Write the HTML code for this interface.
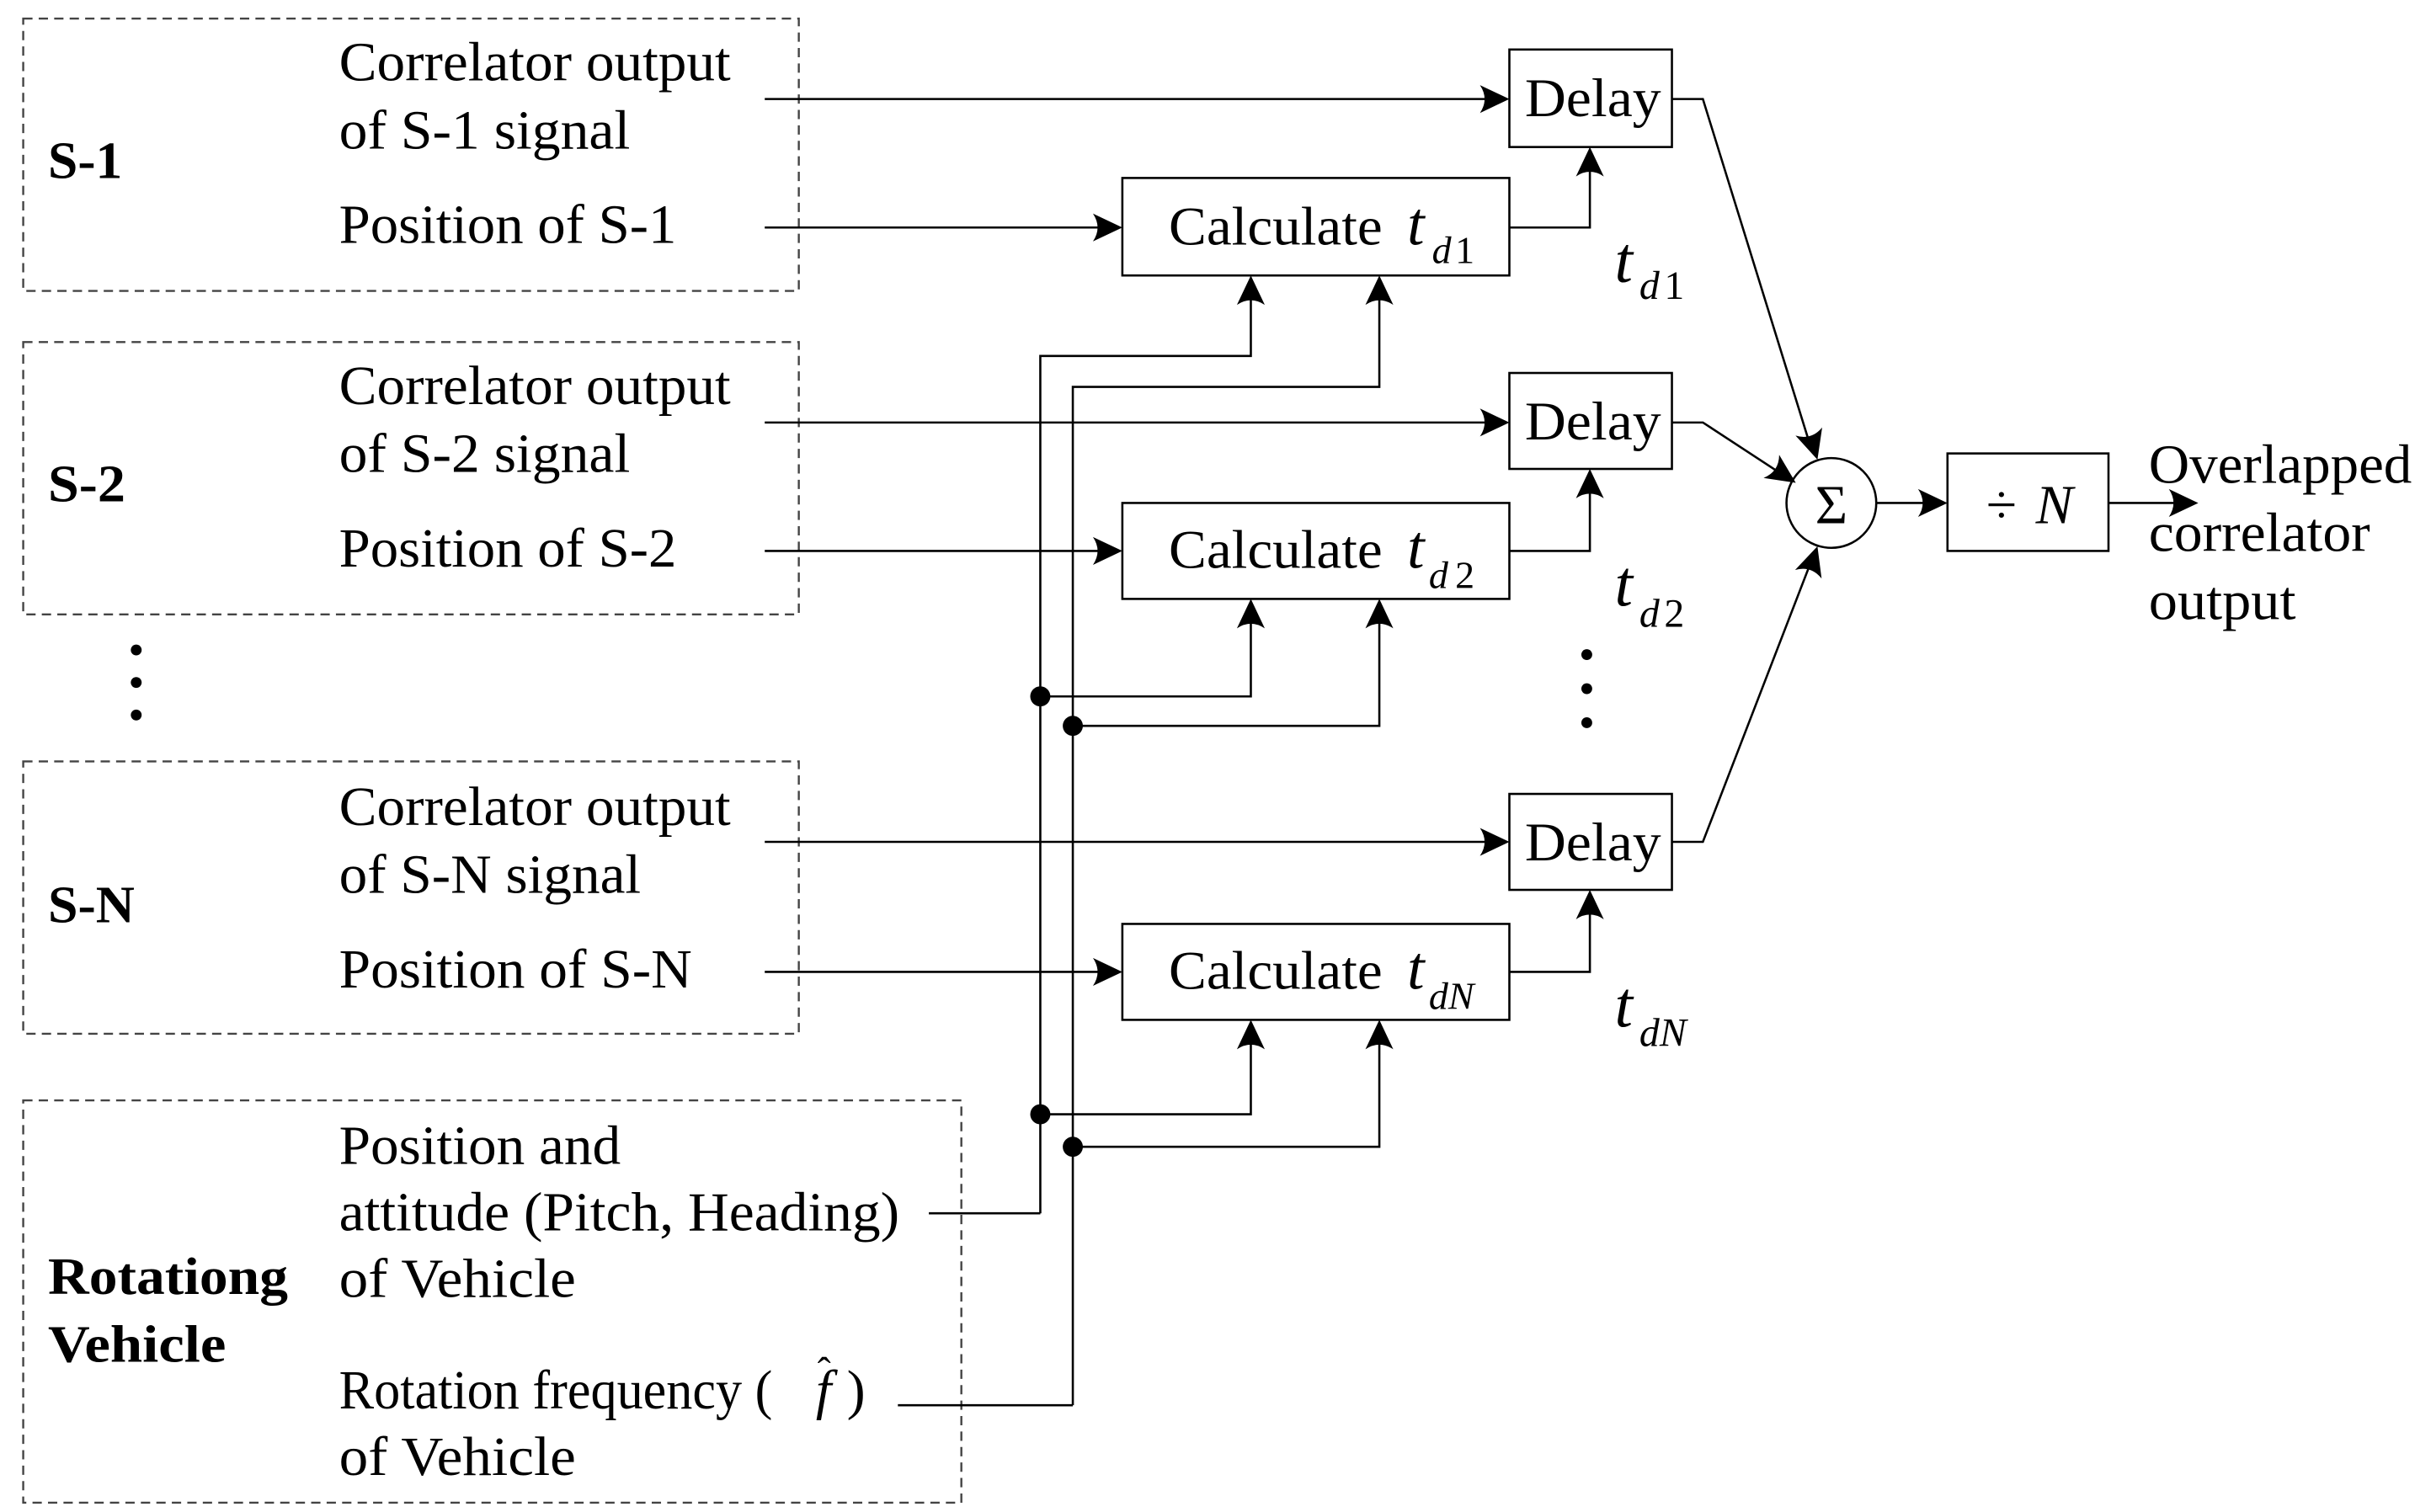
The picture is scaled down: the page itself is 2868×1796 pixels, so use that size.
<!DOCTYPE html>
<html><head><meta charset="utf-8"><style>
html,body{margin:0;padding:0;background:#fff}
svg{display:block}
text{font-family:"Liberation Serif",serif;fill:#000}
</style></head><body>
<svg width="2868" height="1796" viewBox="0 0 1560 977" preserveAspectRatio="none" xmlns="http://www.w3.org/2000/svg">
<defs>
<path id="ar" d="M0,0 L-19,-9 Q-13,0 -19,9 Z" fill="#000"/>
</defs>
<g fill="none" stroke="#444" stroke-width="1.3" stroke-dasharray="6,4">
<rect x="15" y="12" width="501" height="176"/>
<rect x="15" y="221" width="501" height="176"/>
<rect x="15" y="492" width="501" height="176"/>
<rect x="15" y="711" width="606" height="260"/>
</g>
<g fill="none" stroke="#000" stroke-width="1.4">
<!-- row1 -->
<rect x="975" y="32" width="105" height="63"/>
<rect x="725" y="115" width="250" height="63"/>
<path d="M494,64H972 M494,147H722 M975,147H1027V98"/>
<path d="M672,784V230H808V181 M693,908V250H891V181"/>
<!-- row2 -->
<rect x="975" y="241" width="105" height="62"/>
<rect x="725" y="325" width="250" height="62"/>
<path d="M494,273H972 M494,356H722 M975,356H1027V306"/>
<path d="M672,450H808V390 M693,469H891V390"/>
<!-- rowN -->
<rect x="975" y="513" width="105" height="62"/>
<rect x="725" y="597" width="250" height="62"/>
<path d="M494,544H972 M494,628H722 M975,628H1027V578"/>
<path d="M672,720H808V662 M693,741H891V662"/>
<!-- vehicle -->
<path d="M600,784H672 M580,908H693"/>
<!-- sum -->
<path d="M1080,64H1100L1170,290 M1080,273H1100L1155,309 M1080,544H1100L1171,360"/>
<circle cx="1183" cy="325" r="29"/>
<path d="M1212,325H1255"/>
<rect x="1258" y="293" width="104" height="63"/>
<path d="M1362,325H1418"/>
</g>
<g>
<use href="#ar" transform="translate(975,64)"/>
<use href="#ar" transform="translate(725,147)"/>
<use href="#ar" transform="translate(1027,95) rotate(-90)"/>
<use href="#ar" transform="translate(808,178) rotate(-90)"/>
<use href="#ar" transform="translate(891,178) rotate(-90)"/>
<use href="#ar" transform="translate(975,273)"/>
<use href="#ar" transform="translate(725,356)"/>
<use href="#ar" transform="translate(1027,303) rotate(-90)"/>
<use href="#ar" transform="translate(808,387) rotate(-90)"/>
<use href="#ar" transform="translate(891,387) rotate(-90)"/>
<use href="#ar" transform="translate(975,544)"/>
<use href="#ar" transform="translate(725,628)"/>
<use href="#ar" transform="translate(1027,575) rotate(-90)"/>
<use href="#ar" transform="translate(808,659) rotate(-90)"/>
<use href="#ar" transform="translate(891,659) rotate(-90)"/>
<use href="#ar" transform="translate(1174,297) rotate(73)"/>
<use href="#ar" transform="translate(1160,312) rotate(34)"/>
<use href="#ar" transform="translate(1174,353) rotate(-72)"/>
<use href="#ar" transform="translate(1258,325)"/>
<use href="#ar" transform="translate(1420,325)"/>
<circle cx="672" cy="450" r="6.5"/><circle cx="693" cy="469" r="6.5"/>
<circle cx="672" cy="720" r="6.5"/><circle cx="693" cy="741" r="6.5"/>
<circle cx="88" cy="420" r="3.5"/><circle cx="88" cy="441" r="3.5"/><circle cx="88" cy="462" r="3.5"/>
<circle cx="1025" cy="423" r="3.5"/><circle cx="1025" cy="445" r="3.5"/><circle cx="1025" cy="467" r="3.5"/>
</g>
<g font-size="36" lengthAdjust="spacingAndGlyphs">
<text x="219" y="52" textLength="253" lengthAdjust="spacingAndGlyphs">Correlator output</text>
<text x="219" y="96" textLength="188" lengthAdjust="spacingAndGlyphs">of S-1 signal</text>
<text x="219" y="157" textLength="218" lengthAdjust="spacingAndGlyphs">Position of S-1</text>
<text x="219" y="261" textLength="253" lengthAdjust="spacingAndGlyphs">Correlator output</text>
<text x="219" y="305" textLength="188" lengthAdjust="spacingAndGlyphs">of S-2 signal</text>
<text x="219" y="366" textLength="218" lengthAdjust="spacingAndGlyphs">Position of S-2</text>
<text x="219" y="533" textLength="253" lengthAdjust="spacingAndGlyphs">Correlator output</text>
<text x="219" y="577" textLength="195" lengthAdjust="spacingAndGlyphs">of S-N signal</text>
<text x="219" y="638" textLength="228" lengthAdjust="spacingAndGlyphs">Position of S-N</text>
<text x="219" y="752" textLength="182" lengthAdjust="spacingAndGlyphs">Position and</text>
<text x="219" y="795" textLength="362" lengthAdjust="spacingAndGlyphs">attitude (Pitch, Heading)</text>
<text x="219" y="838" textLength="153" lengthAdjust="spacingAndGlyphs">of Vehicle</text>
<text x="219" y="910" textLength="280" lengthAdjust="spacingAndGlyphs">Rotation frequency (</text>
<text x="527" y="910" font-style="italic">f</text>
<text x="528" y="895" font-size="26">ˆ</text>
<text x="547" y="910">)</text>
<text x="219" y="953" textLength="153" lengthAdjust="spacingAndGlyphs">of Vehicle</text>
<text x="1388" y="312" textLength="170" lengthAdjust="spacingAndGlyphs">Overlapped</text>
<text x="1388" y="356" textLength="143" lengthAdjust="spacingAndGlyphs">correlator</text>
<text x="1388" y="400" textLength="95" lengthAdjust="spacingAndGlyphs">output</text>
</g>
<g font-weight="bold" font-size="34">
<text x="31" y="115" textLength="48" lengthAdjust="spacingAndGlyphs">S-1</text>
<text x="31" y="324" textLength="50" lengthAdjust="spacingAndGlyphs">S-2</text>
<text x="31" y="596" textLength="56" lengthAdjust="spacingAndGlyphs">S-N</text>
<text x="31" y="836" textLength="155" lengthAdjust="spacingAndGlyphs">Rotationg</text>
<text x="31" y="880" textLength="115" lengthAdjust="spacingAndGlyphs">Vehicle</text>
</g>
<g font-size="35">
<text x="985" y="75" textLength="88" lengthAdjust="spacingAndGlyphs">Delay</text>
<text x="985" y="284" textLength="88" lengthAdjust="spacingAndGlyphs">Delay</text>
<text x="985" y="556" textLength="88" lengthAdjust="spacingAndGlyphs">Delay</text>
<text x="755" y="158" textLength="138" lengthAdjust="spacingAndGlyphs">Calculate</text>
<text x="755" y="367" textLength="138" lengthAdjust="spacingAndGlyphs">Calculate</text>
<text x="755" y="639" textLength="138" lengthAdjust="spacingAndGlyphs">Calculate</text>
<text x="909" y="158" font-style="italic" font-size="40">t</text>
<text x="925" y="170" font-style="italic" font-size="25">d</text><text x="940" y="170" font-size="25">1</text>
<text x="909" y="367" font-style="italic" font-size="40">t</text>
<text x="923" y="380" font-style="italic" font-size="25">d</text><text x="940" y="380" font-size="25">2</text>
<text x="909" y="639" font-style="italic" font-size="40">t</text>
<text x="923" y="652" font-style="italic" font-size="25">dN</text>
<text x="1043" y="182" font-style="italic" font-size="42">t</text>
<text x="1059" y="193" font-style="italic" font-size="26">d</text><text x="1075" y="193" font-size="26">1</text>
<text x="1043" y="391" font-style="italic" font-size="42">t</text>
<text x="1059" y="405" font-style="italic" font-size="26">d</text><text x="1075" y="405" font-size="26">2</text>
<text x="1043" y="663" font-style="italic" font-size="42">t</text>
<text x="1059" y="676" font-style="italic" font-size="26">dN</text>
<text x="1183" y="338" text-anchor="middle" font-size="36">Σ</text>
<text x="1283" y="338" font-size="36">÷</text>
<text x="1315" y="338" font-style="italic" font-size="36">N</text>
</g>
</svg>
</body></html>
